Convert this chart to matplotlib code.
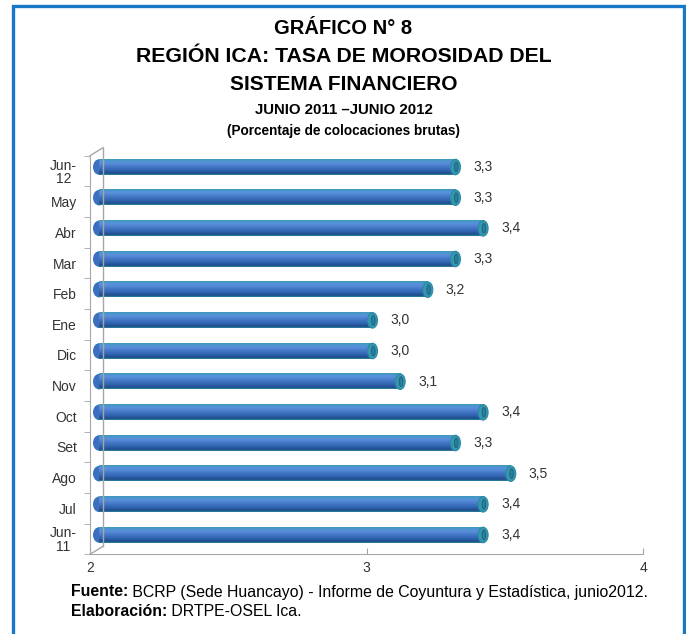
import matplotlib
matplotlib.use('Agg')
import matplotlib.pyplot as plt
import numpy as np
from matplotlib.patches import Ellipse, Rectangle
from matplotlib.colors import LinearSegmentedColormap
from matplotlib.lines import Line2D
from matplotlib import font_manager

# ---------------- data ----------------
categories = ['Jun-\n11', 'Jul', 'Ago', 'Set', 'Oct', 'Nov', 'Dic',
              'Ene', 'Feb', 'Mar', 'Abr', 'May', 'Jun-\n12']
values = [3.4, 3.4, 3.5, 3.3, 3.4, 3.1, 3.0, 3.0, 3.2, 3.3, 3.4, 3.3, 3.3]
xticks = [2, 3, 4]
title_lines = ['GRÁFICO N° 8', 'REGIÓN ICA: TASA DE MOROSIDAD DEL',
               'SISTEMA FINANCIERO']
subtitle_lines = ['JUNIO 2011 –JUNIO 2012', '(Porcentaje de colocaciones brutas)']

W, H = 686, 634
fig = plt.figure(figsize=(W / 100, H / 100), dpi=100)
fig.patch.set_facecolor('white')

names = {f.name for f in font_manager.fontManager.ttflist}
NARROW = 'Liberation Sans Narrow' if 'Liberation Sans Narrow' in names else 'Liberation Sans'
REG = 'Liberation Sans'
TXT = '#333333'


def fx(x):
    return x / W


def fy(y):
    return 1 - y / H


# frame
fig.add_artist(Rectangle((fx(12.5), fy(640)), fx(683.5) - fx(12.5), fy(5.5) - fy(640),
                         transform=fig.transFigure, fill=False, ec='#1778c8', lw=2.4))

# axes
L, R, T, B = 90, 643, 155.7, 554.3
ax = fig.add_axes([fx(L), fy(B), (R - L) / W, (B - T) / H])
ax.set_facecolor('none')
for s in ['top', 'right']:
    ax.spines[s].set_visible(False)
ax.spines['left'].set_color('#a6a6a6')
ax.spines['bottom'].set_color('#a6a6a6')

pxu_x = (R - L) / 2.0
pxu_y = (B - T) / 13.0
dx = 6 / pxu_x
dy = 4 / pxu_y
h = 15.5 / pxu_y
capw = 10 / pxu_x

cmap = LinearSegmentedColormap.from_list('cyl', [
    (0.0, '#3a98b4'), (0.10, '#4d95d2'), (0.25, '#5a90da'),
    (0.5, '#4276c6'), (0.75, '#2d60ab'), (0.90, '#1f4a88'), (1.0, '#2a85a2')])
grad = np.linspace(0, 1, 64).reshape(-1, 1)

for i, v in enumerate(values):
    yc = i + dy
    x0 = 2 + dx
    x1 = v + dx
    ax.add_patch(Ellipse((x0 + capw * 0.3, yc), capw * 1.2, h, fc='#3a70bd',
                         ec='none', zorder=2))
    ax.imshow(grad, extent=[x0 + capw * 0.3, x1, yc - h / 2, yc + h / 2], cmap=cmap,
              aspect='auto', origin='upper', zorder=3, interpolation='bilinear')
    ax.add_patch(Ellipse((x1, yc), capw, h, fc='#3596b0', ec='#2b8aa4', lw=0.8, zorder=4))
    ax.add_patch(Ellipse((x1 + capw * 0.08, yc), capw * 0.35, h * 0.62, fc='#2a7f9c',
                         ec='#1d5f7a', lw=0.6, zorder=5))
    ax.text(x1 + capw / 2 + 13 / pxu_x, yc, f'{v:.1f}'.replace('.', ','),
            ha='left', va='center', fontsize=10, family=REG, color=TXT)

ax.set_xlim(2, 4)
ax.set_ylim(-0.5, 12.5)
ax.set_xticks(xticks)
ax.set_xticklabels([str(t) for t in xticks], family=REG, fontsize=10, color=TXT)
ax.tick_params(axis='x', direction='in', length=4, color='#a6a6a6', pad=5)
ax.set_yticks(range(len(categories)))
ax.set_yticklabels(categories, family=REG, fontsize=10, color=TXT,
                   linespacing=0.95, ha='right', multialignment='center')
ax.set_yticks(np.arange(-0.5, 13, 1), minor=True)
ax.tick_params(axis='y', which='major', length=0, pad=9.5)
ax.tick_params(axis='y', which='minor', length=4, color='#a6a6a6', direction='out')

# 3D wall lines
ox, oy = 13, -8
lc = '#a6a6a6'
for (xa, ya, xb, yb) in [(L, T, L + ox, T + oy), (L, B, L + ox, B + oy),
                         (L + ox, T + oy, L + ox, B + oy)]:
    fig.add_artist(Line2D([fx(xa), fx(xb)], [fy(ya), fy(yb)], transform=fig.transFigure,
                          color=lc, lw=1))

renderer = fig.canvas.get_renderer()


def fit_text(x, y, s, width, family, weight='normal', size=12, ha='center'):
    t = fig.text(fx(x), fy(y), s, ha=ha, va='center', family=family, weight=weight,
                 fontsize=size, color='#000000')
    bb = t.get_window_extent(renderer)
    t.set_fontsize(size * width / bb.width)
    return t


fit_text(343, 28, title_lines[0], 138, NARROW, 'bold', 14)
fit_text(343.5, 57, title_lines[1], 418, NARROW, 'bold', 14)
fit_text(343.5, 85, title_lines[2], 228, NARROW, 'bold', 14)
fit_text(344, 110, subtitle_lines[0], 178, NARROW, 'bold', 10)
fit_text(343.5, 131, subtitle_lines[1], 233, NARROW, 'bold', 10)

# footer
t1 = fig.text(fx(71), fy(592), 'Fuente:', ha='left', va='center', family=NARROW,
              weight='bold', fontsize=10)
t1b = fig.text(0, 0, ' BCRP (Sede Huancayo) - Informe de Coyuntura y Estadística, junio2012.',
               ha='left', va='center', family=NARROW, fontsize=10)
bb1 = t1.get_window_extent(renderer)
bb1b = t1b.get_window_extent(renderer)
scale = (653 - 71) / (bb1.width + bb1b.width)
fs = 10 * scale
t1.set_fontsize(fs)
t1b.set_fontsize(fs)
bb1 = t1.get_window_extent(renderer)
t1b.set_position((fx(71 + bb1.width), fy(592)))
t2 = fig.text(fx(71), fy(612), 'Elaboración:', ha='left', va='center', family=NARROW,
              weight='bold', fontsize=fs)
bb2 = t2.get_window_extent(renderer)
fig.text(fx(71 + bb2.width), fy(612), ' DRTPE-OSEL Ica.', ha='left', va='center',
         family=NARROW, fontsize=fs)

fig.savefig('out.png', dpi=100)
